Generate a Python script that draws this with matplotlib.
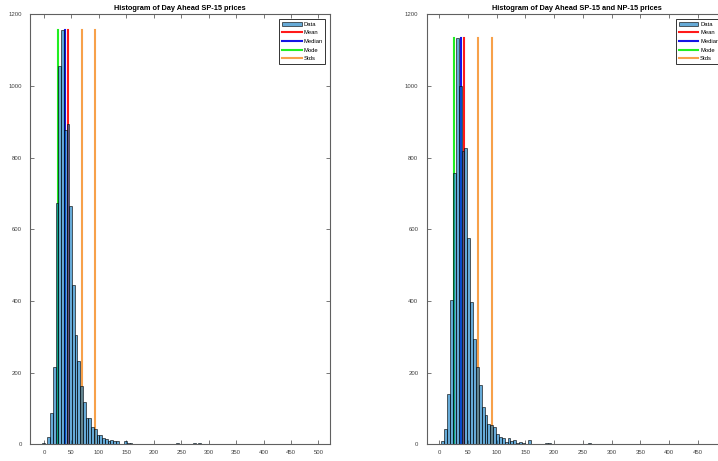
import numpy as np
import matplotlib
matplotlib.use("Agg")
import matplotlib.pyplot as plt

plt.rcParams['font.family'] = ['Liberation Sans', 'DejaVu Sans']

# Bin width used by both histograms
bin_w = 5

# SP-15 histogram: counts for consecutive 5-wide bins starting at sp_start
sp_start = -4
sp_counts = [3, 1, 20, 87, 217, 672, 1056, 1156, 877, 893, 665, 445, 305, 232,
             162, 119, 74, 74, 47, 43, 26, 26, 17, 15, 10, 11, 8, 8, 0, 2,
             8, 3, 3, 0, 0, 2, 0, 2, 0, 0, 0, 2, 2, 1, 0, 0, 0, 0, 2, 3,
             0, 0, 0, 0, 0, 4, 0, 3]
sp_mean, sp_median, sp_mode = 44.3, 38.3, 26.1
sp_stds = [68.5, 92.9]

# SP-15 and NP-15 histogram
spnp_start = -1
spnp_counts = [2, 8, 42, 140, 402, 758, 1134, 1000, 819, 828, 577, 397, 293, 217,
               165, 105, 83, 57, 53, 49, 30, 20, 17, 7, 18, 10, 11, 5, 7, 5,
               2, 11, 0, 2, 0, 0, 0, 3, 4, 0, 0, 0, 0, 2, 0, 1, 0, 0, 0, 0,
               0, 2, 4, 0, 0, 0, 0, 0, 0, 0, 0, 2]
spnp_mean, spnp_median, spnp_mode = 43.8, 38.2, 25.6
spnp_stds = [68.2, 92.0]

bar_color = (0.0, 0.447, 0.741)
mean_c, median_c, mode_c, std_c = '#ff1a1a', '#1414e6', '#22ee22', '#f7a14a'
axis_c = '#606060'

fig = plt.figure(figsize=(7.18, 4.61), dpi=100)


def draw(ax, start, counts, mean, median, mode, stds, title, xlim, xticks):
    edges = start + bin_w * np.arange(len(counts))
    top = max(counts)
    # stat lines first, the transparent bars sit over them
    ax.plot([mean, mean], [0, top], color=mean_c, lw=1.5, label='Mean', zorder=1)
    ax.plot([median, median], [0, top], color=median_c, lw=1.5, label='Median', zorder=1)
    ax.plot([mode, mode], [0, top], color=mode_c, lw=1.5, label='Mode', zorder=1)
    for i, s in enumerate(stds):
        ax.plot([s, s], [0, top], color=std_c, lw=1.5,
                label='Stds' if i == 0 else None, zorder=1)
    ax.bar(edges, counts, width=bin_w, align='edge', color=bar_color, alpha=0.6,
           edgecolor='black', linewidth=0.7, label='Data', zorder=2)
    ax.set_xlim(*xlim)
    ax.set_ylim(0, 1200)
    ax.set_xticks(xticks)
    ax.set_yticks(np.arange(0, 1201, 200))
    ax.tick_params(direction='in', top=True, right=True, length=3, width=0.6,
                   color=axis_c, labelcolor='#404040', labelsize=4.3)
    ax.tick_params(axis='x', pad=4)
    ax.tick_params(axis='y', pad=6)
    for sp in ax.spines.values():
        sp.set_color(axis_c)
        sp.set_linewidth(0.8)
    ax.set_title(title, fontsize=5.3, fontweight='bold', pad=3)
    h, l = ax.get_legend_handles_labels()
    order = [l.index(n) for n in ['Data', 'Mean', 'Median', 'Mode', 'Stds']]
    leg = ax.legend([h[i] for i in order], [l[i] for i in order], loc='upper right',
                    fontsize=4.2, frameon=True, fancybox=False, edgecolor='black',
                    handlelength=3.4, handletextpad=0.3, borderpad=0.45,
                    labelspacing=0.62, borderaxespad=0.8)
    leg.get_frame().set_linewidth(0.7)


ax1 = fig.add_axes([30 / 718, 1 - 444.3 / 461, 300 / 718, 430 / 461])
draw(ax1, sp_start, sp_counts, sp_mean, sp_median, sp_mode, sp_stds,
     'Histogram of Day Ahead SP-15 prices', (-25.5, 521), np.arange(0, 501, 50))

ax2 = fig.add_axes([426.7 / 718, 1 - 444.3 / 461, 300 / 718, 430 / 461])
draw(ax2, spnp_start, spnp_counts, spnp_mean, spnp_median, spnp_mode, spnp_stds,
     'Histogram of Day Ahead SP-15 and NP-15 prices', (-21.5, 489.8),
     np.arange(0, 501, 50))

fig.savefig('out.png', dpi=100)
